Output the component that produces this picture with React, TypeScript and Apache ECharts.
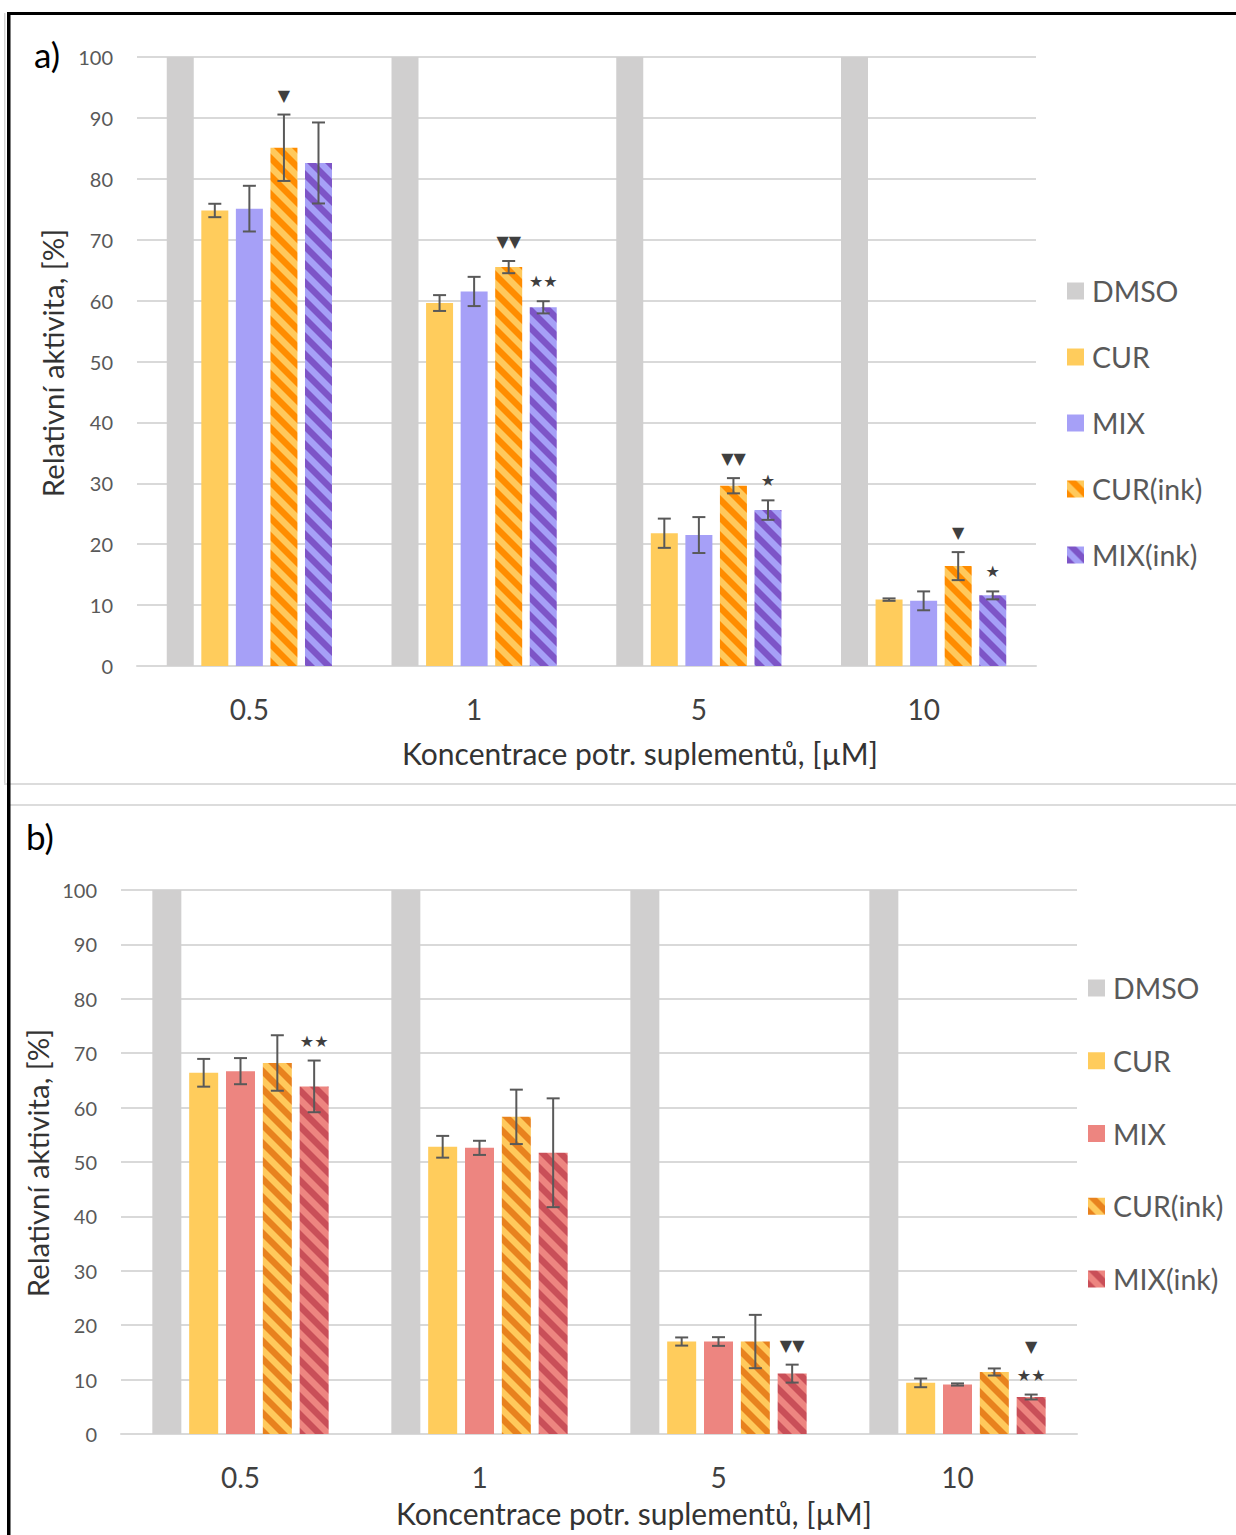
import React, { useEffect, useRef } from 'react';
import * as echarts from 'echarts';

// ---- shared axes ----
const categories = ['0.5', '1', '5', '10'];
const seriesNames = ['DMSO', 'CUR', 'MIX', 'CUR(ink)', 'MIX(ink)'];
const yMin = 0;
const yMax = 100;
const yStep = 10;

// ---- panel a) ----
const dmsoA = [100, 100, 100, 100];
const curA = [74.8, 59.6, 21.8, 10.9];
const curErrA = [1.1, 1.3, 2.4, 0.2];
const mixA = [75.1, 61.5, 21.5, 10.7];
const mixErrA = [3.75, 2.4, 2.95, 1.55];
const curInkA = [85.1, 65.5, 29.6, 16.4];
const curInkErrA = [5.45, 1.0, 1.25, 2.3];
const mixInkA = [82.6, 58.9, 25.6, 11.6];
const mixInkErrA = [6.65, 1.0, 1.6, 0.65];
const curInkMarksA = ['▼', '▼▼', '▼▼', '▼'];
const mixInkMarksA = ['', '★★', '★', '★'];

// ---- panel b) ----
const dmsoB = [100, 100, 100, 100];
const curB = [66.4, 52.8, 17.0, 9.4];
const curErrB = [2.55, 2.0, 0.75, 0.8];
const mixB = [66.7, 52.6, 17.0, 9.1];
const mixErrB = [2.4, 1.3, 0.8, 0.2];
const curInkB = [68.2, 58.3, 17.0, 11.4];
const curInkErrB = [5.1, 5.0, 4.9, 0.65];
const mixInkB = [63.9, 51.7, 11.1, 6.8];
const mixInkErrB = [4.75, 10.0, 1.65, 0.45];
const curInkMarksB = ['', '', '', ''];
const mixInkMarksB = ['★★', '', '▼▼', '▼\n★★'];

const xTitle = 'Koncentrace potr. suplementů, [µM]';
const yTitle = 'Relativní aktivita, [%]';

const FONT = 'Lato';
const PANEL_B_TOP = 795;

// Diagonal "\" stripe tile used for the (ink) series
function stripes(base: string, stripe: string) {
  const size = 18;
  const c = document.createElement('canvas');
  c.width = size;
  c.height = size;
  const ctx = c.getContext('2d')!;
  ctx.fillStyle = base;
  ctx.fillRect(0, 0, size, size);
  ctx.fillStyle = stripe;
  for (let k = -2; k <= 1; k++) {
    const x0 = k * size;
    ctx.beginPath();
    ctx.moveTo(x0, 0);
    ctx.lineTo(x0 + size / 2, 0);
    ctx.lineTo(x0 + size / 2 + size, size);
    ctx.lineTo(x0 + size, size);
    ctx.closePath();
    ctx.fill();
  }
  return { image: c.toDataURL(), repeat: 'repeat', imageWidth: size, imageHeight: size };
}

interface Panel {
  grid: { left: number; top: number; width: number; height: number };
  barWidth: number;
  barGap: number;
  colors: any[];
  values: number[][];
  errors: number[][]; // for series 1..4
  marks: string[][]; // for series 1..4
  legend: { left: number; top: number; itemGap: number };
  label: { text: string; x: number; y: number };
  xTitlePos: { x: number; y: number };
  yTitlePos: { x: number; y: number };
  frame: any[];
}

function buildOption(p: Panel) {
  const errData: number[][] = [];
  const markList: string[] = [];
  for (let s = 1; s < 5; s++) {
    p.values[s].forEach((v, i) => {
      const e = p.errors[s - 1][i];
      errData.push([i, v - e, v + e, s]);
      markList.push(p.marks[s - 1][i]);
    });
  }
  const step = p.barWidth * (1 + p.barGap);
  const barSeries = seriesNames.map((name, s) => ({
    name,
    type: 'bar',
    data: p.values[s],
    barWidth: p.barWidth,
    barGap: `${Math.round(p.barGap * 100)}%`,
    itemStyle: { color: p.colors[s] },
    z: 2,
  }));
  const errSeries = {
    type: 'custom',
    name: 'err',
    data: errData,
    encode: { x: 0, y: [1, 2] },
    z: 5,
    renderItem: (params: any, api: any) => {
      const cat = api.value(0);
      const lo = api.value(1);
      const hi = api.value(2);
      const s = api.value(3);
      const center = api.coord([cat, 0])[0];
      const x = center + (s - 2) * step;
      const yLo = api.coord([cat, lo])[1];
      const yHi = api.coord([cat, hi])[1];
      const st = { stroke: '#595959', lineWidth: 2 };
      const children: any[] = [
        { type: 'line', shape: { x1: x, y1: yLo, x2: x, y2: yHi }, style: st },
        { type: 'line', shape: { x1: x - 6.5, y1: yHi, x2: x + 6.5, y2: yHi }, style: st },
        { type: 'line', shape: { x1: x - 6.5, y1: yLo, x2: x + 6.5, y2: yLo }, style: st },
      ];
      const mark = markList[params.dataIndex];
      if (mark) {
        children.push({
          type: 'text',
          x,
          y: yHi - 5,
          style: {
            text: mark,
            fill: '#3f3f3f',
            fontSize: 16,
            fontFamily: 'DejaVu Sans',
            align: 'center',
            verticalAlign: 'bottom',
            lineHeight: 29,
          },
        });
      }
      return { type: 'group', children };
    },
  };

  return {
    animation: false,
    textStyle: { fontFamily: FONT },
    grid: { ...p.grid, containLabel: false },
    legend: {
      orient: 'vertical',
      left: p.legend.left,
      top: p.legend.top,
      padding: 0,
      itemWidth: 17,
      itemHeight: 17,
      itemGap: p.legend.itemGap,
      icon: 'rect',
      selectedMode: false,
      data: seriesNames,
      textStyle: { fontFamily: FONT, fontSize: 28.5, color: '#595959', lineHeight: 30, padding: [0, 0, 0, 3] },
    },
    xAxis: {
      type: 'category',
      data: categories,
      axisLine: { lineStyle: { color: '#d9d9d9', width: 2 } },
      axisTick: { show: false },
      axisLabel: { fontSize: 28, color: '#404040', margin: 29, fontFamily: FONT },
    },
    yAxis: {
      type: 'value',
      min: yMin,
      max: yMax,
      interval: yStep,
      axisLine: { show: false },
      axisTick: { show: false },
      splitLine: { lineStyle: { color: '#d9d9d9', width: 2 } },
      axisLabel: { fontSize: 20, color: '#595959', margin: 24, fontFamily: FONT },
    },
    graphic: [
      ...p.frame,
      {
        type: 'text',
        left: p.label.x,
        top: p.label.y,
        style: { text: p.label.text, fontSize: 35, fontFamily: FONT, fill: '#000' },
      },
      {
        type: 'text',
        x: p.xTitlePos.x,
        y: p.xTitlePos.y,
        style: {
          text: xTitle,
          fontSize: 30,
          fontFamily: FONT,
          fill: '#333',
          align: 'center',
          verticalAlign: 'middle',
        },
      },
      {
        type: 'text',
        x: p.yTitlePos.x,
        y: p.yTitlePos.y,
        rotation: Math.PI / 2,
        style: {
          text: yTitle,
          fontSize: 29.3,
          fontFamily: FONT,
          fill: '#333',
          align: 'center',
          verticalAlign: 'middle',
        },
      },
    ],
    series: [...barSeries, errSeries],
  };
}

export default function App() {
  const refA = useRef<HTMLDivElement>(null);
  const refB = useRef<HTMLDivElement>(null);

  useEffect(() => {
    document.body.style.margin = '0';
    const gray = '#d0cfcf';
    const cur = '#ffcc5c';

    const panelA: Panel = {
      grid: { left: 137, top: 57, width: 899, height: 609 },
      barWidth: 27,
      barGap: 0.28,
      colors: [gray, cur, '#a6a0f7', stripes('#ffc95c', '#ff8c00'), stripes('#a6a0f7', '#7d55c7')],
      values: [dmsoA, curA, mixA, curInkA, mixInkA],
      errors: [curErrA, mixErrA, curInkErrA, mixInkErrA],
      marks: [['', '', '', ''], ['', '', '', ''], curInkMarksA, mixInkMarksA],
      legend: { left: 1067, top: 276, itemGap: 36 },
      label: { text: 'a)', x: 34, y: 36 },
      xTitlePos: { x: 640, y: 753 },
      yTitlePos: { x: 52, y: 363 },
      frame: [
        { type: 'rect', shape: { x: 4, y: 13, width: 1.5, height: 771 }, style: { fill: '#d4d4d4' }, silent: true },
        { type: 'rect', shape: { x: 4, y: 783, width: 1232, height: 2 }, style: { fill: '#dcdcdc' }, silent: true },
        { type: 'rect', shape: { x: 7, y: 12, width: 1229, height: 3 }, style: { fill: '#000' }, silent: true },
        { type: 'rect', shape: { x: 7, y: 12, width: 3.5, height: 783 }, style: { fill: '#000' }, silent: true },
      ],
    };

    const off = PANEL_B_TOP;
    const panelB: Panel = {
      grid: { left: 121, top: 890 - off, width: 956, height: 544 },
      barWidth: 29,
      barGap: 0.27,
      colors: [gray, cur, '#ed8580', stripes('#ffc95c', '#e8821e'), stripes('#ed8580', '#c94f58')],
      values: [dmsoB, curB, mixB, curInkB, mixInkB],
      errors: [curErrB, mixErrB, curInkErrB, mixInkErrB],
      marks: [['', '', '', ''], ['', '', '', ''], curInkMarksB, mixInkMarksB],
      legend: { left: 1088, top: 973 - off, itemGap: 42.75 },
      label: { text: 'b)', x: 26, y: 818 - off },
      xTitlePos: { x: 634, y: 1513 - off },
      yTitlePos: { x: 37, y: 1163 - off },
      frame: [
        { type: 'rect', shape: { x: 10, y: 804 - off, width: 1226, height: 2 }, style: { fill: '#dcdcdc' }, silent: true },
        { type: 'rect', shape: { x: 7, y: 0, width: 3.5, height: 740 }, style: { fill: '#000' }, silent: true },
      ],
    };

    const chartA = echarts.init(refA.current!, undefined, { renderer: 'svg' });
    const chartB = echarts.init(refB.current!, undefined, { renderer: 'svg' });
    chartA.setOption(buildOption(panelA) as any);
    chartB.setOption(buildOption(panelB) as any);
    return () => {
      chartA.dispose();
      chartB.dispose();
    };
  }, []);

  return (
    <div style={{ position: 'relative', width: 1236, height: 1535, background: '#fff' }}>
      <div ref={refA} style={{ position: 'absolute', left: 0, top: 0, width: 1236, height: PANEL_B_TOP }} />
      <div
        ref={refB}
        style={{ position: 'absolute', left: 0, top: PANEL_B_TOP, width: 1236, height: 1535 - PANEL_B_TOP }}
      />
    </div>
  );
}
